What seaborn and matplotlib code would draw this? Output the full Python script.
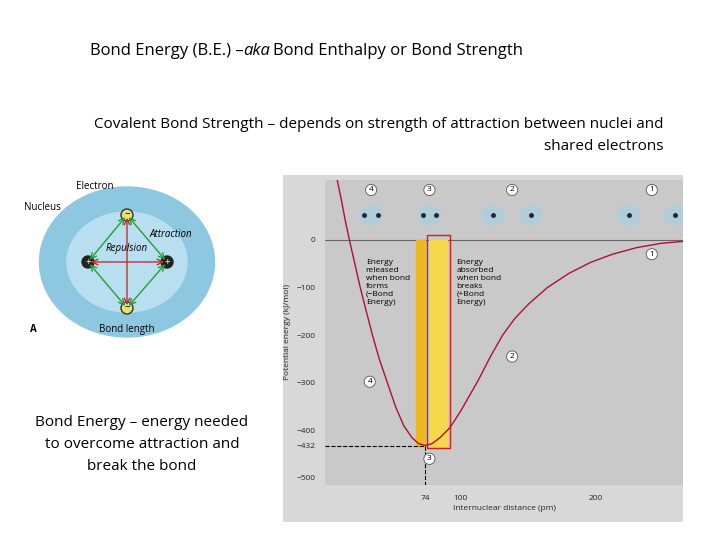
import matplotlib
matplotlib.use("Agg")
import matplotlib.pyplot as plt
import seaborn as sns
import pandas as pd
from matplotlib.patches import Rectangle, Ellipse, Circle

sns.set_style("white")
plt.rcParams['font.family'] = ['Open Sans', 'DejaVu Sans']
plt.rcParams['text.color'] = 'black'

# Potential energy curve
distance_pm = [9, 12, 15, 18, 22, 26, 30, 35, 40, 46, 52, 58, 64, 69, 74, 79, 85, 92, 100, 106, 113, 122, 131, 140, 150, 164, 180, 196, 212, 230, 248, 264]
energy_kj = [126, 85, 40, 0, -50, -100, -145, -200, -250, -300, -350, -390, -415, -428, -432, -428, -415, -395, -360, -330, -295, -245, -200, -165, -135, -100, -70, -47, -30, -16, -7, -3]
y_ticks = [0, -100, -200, -300, -400, -500]
x_ticks = [100, 200]
bond_length = 74
bond_energy = -432
stage_x = [34, 77, 138, 241]
stage_labels = ["4", "3", "2", "1"]

W, H = 720, 540
fig = plt.figure(figsize=(7.2, 5.4), dpi=100)

def fx(p): return p / W
def fy(p): return 1 - p / H

fig.text(fx(90), fy(51), "Bond Energy (B.E.) –", fontsize=12, va="center")
fig.text(fx(243), fy(51), "aka", fontsize=12, va="center", style="italic")
fig.text(fx(273), fy(51), "Bond Enthalpy or Bond Strength", fontsize=12, va="center")
fig.text(fx(664), fy(125), "Covalent Bond Strength – depends on strength of attraction between nuclei and",
         fontsize=11, va="center", ha="right")
fig.text(fx(664), fy(147), "shared electrons", fontsize=11, va="center", ha="right")
for i, line in enumerate(["Bond Energy – energy needed", "to overcome attraction and", "break the bond"]):
    fig.text(fx(142), fy(422 + 22 * i), line, fontsize=11, va="center", ha="center")

# gray photo background
bg = fig.add_axes([fx(283), fy(522), (683 - 283) / W, (522 - 175) / H], zorder=-5)
bg.set_facecolor("#d8d8d8"); bg.set_xticks([]); bg.set_yticks([])
for s in bg.spines.values():
    s.set_visible(False)

ax = fig.add_axes([fx(325), fy(485), (683 - 325) / W, (485 - 180) / H], zorder=1)
ax.set_facecolor("#c9c9c9")
df = pd.DataFrame({"d": distance_pm, "E": energy_kj})
ax.add_patch(Rectangle((67, bond_energy), 7, -bond_energy, color="#f0b820", zorder=2))
ax.add_patch(Rectangle((77, bond_energy), 13, -bond_energy, color="#f5d94a", zorder=2))
ax.add_patch(Rectangle((75.5, bond_energy - 5), 17, -bond_energy + 15, fill=False,
                       ec="#d02020", lw=1, zorder=3))
sns.lineplot(data=df, x="d", y="E", ax=ax, color="#b01030", lw=1, zorder=4)
ax.axhline(0, color="#666", lw=0.8, zorder=1)
ax.plot([0, bond_length], [bond_energy] * 2, ls="--", color="k", lw=0.8)
ax.plot([bond_length] * 2, [bond_energy, -515], ls="--", color="k", lw=0.8)
ax.set_xlim(0, 264)
ax.set_ylim(-515, 126)
ax.set_yticks(y_ticks + [bond_energy])
ax.set_yticklabels([str(v).replace("-", "−") for v in y_ticks] + ["−432"], fontsize=6)
ax.set_xticks(x_ticks + [bond_length])
ax.set_xticklabels([str(v) for v in x_ticks] + ["74"], fontsize=6)
ax.set_xlabel("Internuclear distance (pm)", fontsize=6, labelpad=2)
ax.set_ylabel("Potential energy (kJ/mol)", fontsize=6)
for s in ax.spines.values():
    s.set_visible(False)
ax.text(30, -40, "Energy\nreleased\nwhen bond\nforms\n(−Bond\nEnergy)", fontsize=6, va="top")
ax.text(97, -40, "Energy\nabsorbed\nwhen bond\nbreaks\n(+Bond\nEnergy)", fontsize=6, va="top")
for xs, lab in zip(stage_x, stage_labels):
    ax.text(xs, 105, lab, fontsize=6, ha="center", va="center",
            bbox=dict(boxstyle="circle,pad=0.25", fc="white", ec="#555", lw=0.6))
    sep = {34: 5, 77: 5, 138: 14, 241: 17}[xs]
    for cx in ([xs - sep, xs + sep] if sep > 10 else [xs]):
        ax.add_patch(Ellipse((cx, 52), 16, 40, color="#a8d0e0", alpha=0.7))
    ax.plot([xs - sep, xs + sep], [52, 52], "o", color="#223", ms=2.5)
for xx, yy, lab in [(241, -30, "1"), (138, -245, "2"), (77, -460, "3"), (33, -298, "4")]:
    ax.text(xx, yy, lab, fontsize=6, ha="center", va="center",
            bbox=dict(boxstyle="circle,pad=0.25", fc="white", ec="#555", lw=0.6))

# left diagram
ax2 = fig.add_axes([fx(22), fy(350), (215 - 22) / W, (350 - 180) / H])
ax2.set_xlim(22, 215); ax2.set_ylim(350, 180); ax2.axis("off")
ax2.add_patch(Ellipse((127, 262), 175, 150, color="#8ec8e0"))
ax2.add_patch(Ellipse((127, 262), 120, 100, color="#b8dff0"))
pts = {"L": (88, 262), "R": (167, 262), "T": (127, 215), "B": (127, 308)}
for a, b in [("L", "T"), ("T", "R"), ("R", "B"), ("B", "L")]:
    ax2.annotate("", xy=pts[b], xytext=pts[a], arrowprops=dict(arrowstyle="<->", color="#2a9a3a"))
ax2.annotate("", xy=(88, 262), xytext=(167, 262), arrowprops=dict(arrowstyle="<->", color="#c03030"))
ax2.annotate("", xy=(127, 215), xytext=(127, 308), arrowprops=dict(arrowstyle="<->", color="#c03030"))
for k, (x, y) in pts.items():
    if k in "LR":
        ax2.add_patch(Circle((x, y), 6, color="#222"))
        ax2.text(x, y, "+", color="white", ha="center", va="center", fontsize=7)
    else:
        ax2.add_patch(Circle((x, y), 6, fc="#e8e070", ec="#333"))
        ax2.text(x, y, "−", ha="center", va="center", fontsize=7)
ax2.text(95, 189, "Electron", fontsize=7, ha="center")
ax2.text(24, 210, "Nucleus", fontsize=7)
ax2.text(127, 251, "Repulsion", fontsize=7, ha="center", style="italic")
ax2.text(150, 237, "Attraction", fontsize=7, style="italic")
ax2.text(127, 332, "Bond length", fontsize=7, ha="center")
ax2.text(30, 332, "A", fontsize=7, weight="bold")
ax2.annotate("", xy=(88, 332), xytext=(50, 332), arrowprops=dict(arrowstyle="->"))
ax2.annotate("", xy=(167, 332), xytext=(200, 332), arrowprops=dict(arrowstyle="->"))

fig.savefig("out.png", dpi=100)
